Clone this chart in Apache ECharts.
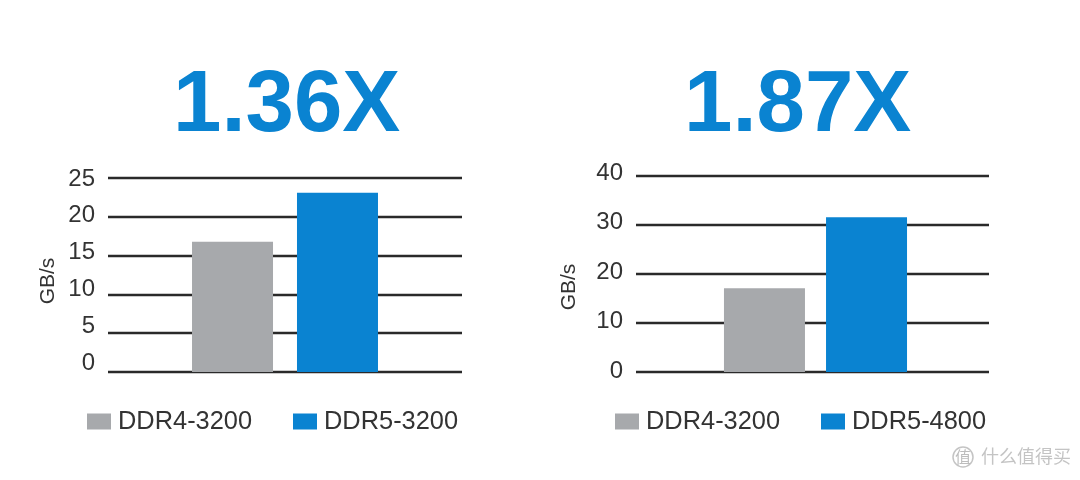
<!DOCTYPE html>
<html>
<head>
<meta charset="utf-8">
<title>DDR4 vs DDR5</title>
<script src="https://cdn.jsdelivr.net/npm/echarts@6/dist/echarts.min.js"></script>
<style>
  html, body { margin: 0; padding: 0; background: #fff; }
  #chart { width: 1080px; height: 480px; }
</style>
</head>
<body>
<div id="chart"></div>
<script>
var headlines = ["1.36X", "1.87X"];
var unitName = "GB/s";
var leftNames = ["DDR4-3200", "DDR5-3200"];
var rightNames = ["DDR4-3200", "DDR5-4800"];
var leftValues = [16.8, 23.1];
var rightValues = [17.1, 31.6];
var leftMax = 25, leftStep = 5;
var rightMax = 40, rightStep = 10;

var FONT = '"Liberation Sans", Arial, sans-serif';
var GREY = "#a7a9ac", BLUE = "#0a83d1", TEXT = "#333333", RULE = "#2a2a2a";

var grids = [], xAxes = [], yAxes = [], series = [], legends = [], titles = [], graphics = [];

// every panel gets three stacked grids: rules, bars and tick labels.
// the source picture has its labels drifting away from the rules, so they need their own scale
function addPanel(p) {
    var g = grids.length;
    var scale = { type: "value", min: 0, max: p.max, interval: p.step };
    var ruleStyle = { color: RULE, width: 2.4 };

    grids.push({ left: p.left, width: p.width, top: p.ruleTop, height: 372 - p.ruleTop });
    xAxes.push({ gridIndex: g, type: "category", data: ["x"], show: false });
    yAxes.push(Object.assign({ gridIndex: g, axisLabel: { show: false }, axisLine: { show: false },
        axisTick: { show: false }, splitLine: { show: true, lineStyle: ruleStyle } }, scale));

    grids.push({ left: p.barLeft, width: p.width, top: p.ruleTop, height: 372 - p.ruleTop });
    xAxes.push({ gridIndex: g + 1, type: "category", data: ["x"], show: false });
    yAxes.push(Object.assign({ gridIndex: g + 1, show: false }, scale));

    grids.push({ left: p.left, width: p.width, top: p.labelTop, height: p.labelBottom - p.labelTop });
    xAxes.push({ gridIndex: g + 2, type: "category", data: ["x"], show: false });
    yAxes.push(Object.assign({ gridIndex: g + 2, axisLine: { show: false }, axisTick: { show: false },
        splitLine: { show: false },
        axisLabel: { margin: 13, fontFamily: FONT, fontSize: 24, color: TEXT } }, scale));

    p.names.forEach(function (name, i) {
        series.push({
            name: name,
            type: "bar",
            xAxisIndex: g + 1,
            yAxisIndex: g + 1,
            data: [p.values[i]],
            barWidth: 81,
            barGap: p.barGap,
            z: 3,
            itemStyle: { color: i === 0 ? GREY : BLUE }
        });
    });

    p.names.forEach(function (name, i) {
        legends.push({
            data: [name],
            left: p.legendLeft[i],
            top: 409,
            padding: 0,
            itemWidth: 24,
            itemHeight: 16,
            selectedMode: false,
            icon: "rect",
            textStyle: { fontFamily: FONT, fontSize: 25.4, color: TEXT, padding: [0, 0, 0, 2] }
        });
    });

    titles.push({
        text: p.headline,
        left: p.titleLeft,
        top: 64,
        padding: 0,
        textStyle: { fontFamily: FONT, fontSize: 87, fontWeight: "bold", color: BLUE }
    });

    graphics.push({
        type: "text",
        x: p.unitX,
        y: p.unitY,
        rotation: Math.PI / 2,
        style: { text: unitName, font: "21px " + FONT, fill: TEXT, align: "center", verticalAlign: "middle" }
    });
}

addPanel({
    headline: headlines[0], names: leftNames, values: leftValues, max: leftMax, step: leftStep,
    left: 108, width: 354, barLeft: 108, barGap: "29.6%", ruleTop: 178,
    labelTop: 179, labelBottom: 363, legendLeft: [87, 293], titleLeft: 173, unitX: 48, unitY: 281
});
addPanel({
    headline: headlines[1], names: rightNames, values: rightValues, max: rightMax, step: rightStep,
    left: 636, width: 353, barLeft: 639, barGap: "26%", ruleTop: 176,
    labelTop: 173, labelBottom: 371, legendLeft: [615, 821], titleLeft: 684, unitX: 569, unitY: 287
});

// watermark in the bottom corner of the source image
titles.push({
    text: "值",
    left: 953,
    top: 447,
    padding: 2,
    borderColor: "#c4c4c4",
    borderWidth: 1.5,
    borderRadius: 12,
    textStyle: { fontFamily: '"Noto Sans CJK SC"', fontSize: 16, fontWeight: "normal", color: "#bdbdbd" }
});
titles.push({
    text: "什么值得买",
    left: 981,
    top: 447,
    padding: 0,
    textStyle: { fontFamily: '"Noto Sans CJK SC"', fontSize: 18, fontWeight: "normal", color: "#c4c4c4" }
});

var myChart = echarts.init(document.getElementById("chart"));
myChart.setOption({
    backgroundColor: "#ffffff",
    animation: false,
    title: titles,
    legend: legends,
    grid: grids,
    xAxis: xAxes,
    yAxis: yAxes,
    series: series,
    graphic: graphics
});
</script>
</body>
</html>
